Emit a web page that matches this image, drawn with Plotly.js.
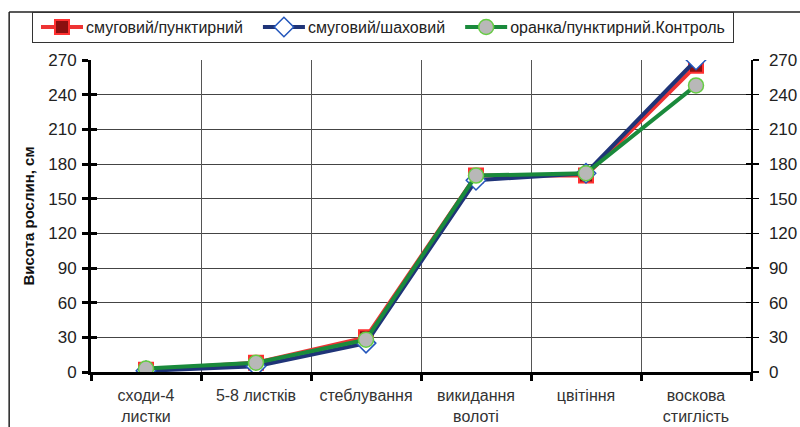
<!DOCTYPE html>
<html><head><meta charset="utf-8">
<script src="https://cdn.plot.ly/plotly-3.0.1.min.js"></script>
<style>html,body{margin:0;padding:0;background:#fff}#c{width:800px;height:427px}</style>
</head><body><div id="c"></div>
<script>
const categories = ["сходи-4<br>листки","5-8 листків","стеблування","викидання<br>волоті","цвітіння","воскова<br>стиглість"];
const seriesNames = ["смуговий/пунктирний","смуговий/шаховий","оранка/пунктирний.Контроль"];
const s1 = [2, 8, 30, 170, 170, 265];
const s2 = [1, 5, 25, 166, 172, 270];
const s3 = [3, 8, 28, 170, 172, 248];
const yTicks = [0,30,60,90,120,150,180,210,240,270];

const idx = categories.map((_, i) => i);
const bounds = categories.map((_, i) => i - 0.5).concat([categories.length - 0.5]);
const font = "Liberation Sans, Arial, sans-serif";

const traces = [
  {x: idx, y: s1, name: seriesNames[0], type: "scatter", mode: "lines+markers",
   line: {color: "#EE3333", width: 4},
   marker: {symbol: "square", size: 14, color: "#8B1010", line: {color: "#FF3030", width: 2}}},
  {x: idx, y: s2, name: seriesNames[1], type: "scatter", mode: "lines+markers",
   line: {color: "#1F3478", width: 4},
   marker: {symbol: "diamond", size: 15, color: "#FFFFFF", line: {color: "#2255BB", width: 1.5}}},
  {x: idx, y: s3, name: seriesNames[2], type: "scatter", mode: "lines+markers",
   line: {color: "#1A8A3C", width: 4},
   marker: {symbol: "circle", size: 15, color: "#B8B8B8", line: {color: "#66CC44", width: 1.5}}},
  {x: [0], y: [0], xaxis: "x2", yaxis: "y2", showlegend: false, hoverinfo: "skip", mode: "markers", marker: {opacity: 0}},
  {x: [0], y: [0], xaxis: "x", yaxis: "y3", showlegend: false, hoverinfo: "skip", mode: "markers", marker: {opacity: 0}},
  {x: [0], y: [0], xaxis: "x", yaxis: "y4", showlegend: false, hoverinfo: "skip", mode: "markers", marker: {opacity: 0}}
];

const xr = [-0.5, categories.length - 0.5];
const yr = [0, 270];

const layout = {
  width: 800, height: 427,
  margin: {l: 91, r: 49, t: 60, b: 55},
  paper_bgcolor: "#fff", plot_bgcolor: "#fff",
  font: {family: font, color: "#222", size: 15},
  showlegend: true,
  legend: {orientation: "h", x: -0.0894, xanchor: "left", y: 1.1538, yanchor: "top",
           bordercolor: "#333", borderwidth: 1, font: {size: 16, color: "#222"},
           itemwidth: 30, tracegroupgap: 0},
  xaxis: {range: xr, tickmode: "array", tickvals: idx, ticktext: categories,
          ticks: "", showgrid: false, zeroline: false, showline: false, ticklabelstandoff: 12,
          tickfont: {size: 16, color: "#333"}, fixedrange: true},
  xaxis2: {range: xr, overlaying: "x", anchor: "y", side: "bottom",
           tickmode: "array", tickvals: bounds, ticktext: bounds.map(() => ""),
           ticks: "outside", ticklen: 6, tickwidth: 3, tickcolor: "#000",
           showgrid: true, gridcolor: "#555", gridwidth: 1, zeroline: false,
           showline: true, linecolor: "#000", linewidth: 3},
  yaxis: {range: yr, tickmode: "array", tickvals: yTicks, ticks: "outside", ticklen: 6,
          tickwidth: 3, tickcolor: "#000", showline: true, linecolor: "#000", linewidth: 3,
          showgrid: true, gridcolor: "#444", gridwidth: 1, zeroline: false,
          tickfont: {size: 17, color: "#222"}, ticklabelstandoff: 2,
          title: {text: "Висота рослин, см", font: {size: 15, color: "#111", weight: "bold"}, standoff: 10}},
  yaxis2: {range: yr, overlaying: "y", side: "right", anchor: "x2", tickmode: "array", tickvals: yTicks,
           ticks: "outside", ticklen: 6, tickwidth: 1.5, tickcolor: "#000", showline: true,
           linecolor: "#000", linewidth: 1.5, showgrid: false, zeroline: false, ticklabelstandoff: 7,
           tickfont: {size: 17, color: "#222"}},
  yaxis3: {range: yr, overlaying: "y", side: "left", anchor: "x", tickmode: "array", tickvals: yTicks,
           ticktext: yTicks.map(() => ""), ticks: "inside", ticklen: 6, tickwidth: 3, tickcolor: "#000",
           showgrid: false, zeroline: false, showline: false},
  yaxis4: {range: yr, overlaying: "y", side: "right", anchor: "x", tickmode: "array", tickvals: yTicks,
           ticktext: yTicks.map(() => ""), ticks: "inside", ticklen: 5, tickwidth: 1.5, tickcolor: "#000",
           showgrid: false, zeroline: false, showline: false},
  shapes: [
    {type: "line", xref: "paper", yref: "paper", x0: -0.124, x1: -0.124, y0: 1.1538, y1: -0.3, line: {color: "#222", width: 1.5}},
    {type: "line", xref: "paper", yref: "paper", x0: -0.124, x1: 1.1, y0: 1.1538, y1: 1.1538, line: {color: "#222", width: 1.5}}
  ]
};

const gd = document.getElementById("c");
Plotly.newPlot(gd, traces, layout, {displayModeBar: false, staticPlot: true}).then(() => {
  const leg = gd.querySelector(".legend");
  if (!leg) return;
  const sb = leg.querySelector(".scrollbox");
  if (sb) sb.removeAttribute("clip-path");
  const lineLen = 42, textX = 45, gap = 20, legH = 30;
  let x = 9;
  leg.querySelectorAll(".traces").forEach(it => {
    it.setAttribute("transform", `translate(${x},${legH / 2})`);
    it.querySelectorAll(".legendlines path").forEach(p => p.setAttribute("d", `M0,0h${lineLen}`));
    it.querySelectorAll(".legendpoints path").forEach(p => p.setAttribute("transform", `translate(${lineLen / 2},0)`));
    const t = it.querySelector(".legendtext");
    t.setAttribute("x", textX);
    const w = t.getComputedTextLength();
    x += textX + w + gap;
  });
  const bg = leg.querySelector("rect.bg");
  if (bg) { bg.setAttribute("width", x - gap + 8); bg.setAttribute("height", legH); }
});
</script></body></html>
